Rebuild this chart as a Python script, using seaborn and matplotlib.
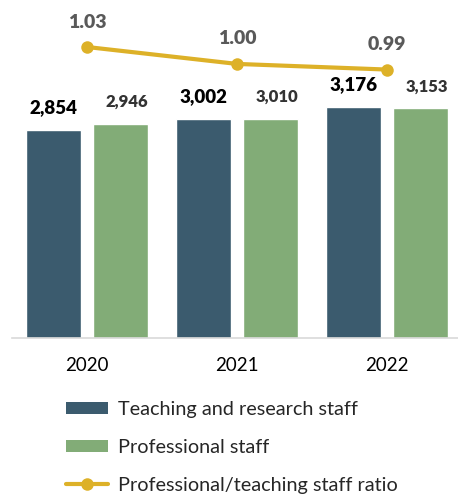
import numpy as np
import pandas as pd
import matplotlib
matplotlib.use("Agg")
import matplotlib.pyplot as plt
from matplotlib.patches import Patch
from matplotlib.lines import Line2D
import seaborn as sns

# chart data
years = ["2020", "2021", "2022"]
teaching = [2854, 3002, 3176]
professional = [2946, 3010, 3153]
ratio = [1.03, 1.00, 0.99]

series_names = ["Teaching and research staff", "Professional staff"]
ratio_name = "Professional/teaching staff ratio"

c_teach = "#3B5B6E"
c_prof = "#82AC77"
c_gold = "#DDB128"

sns.set_theme(style="white")
plt.rcParams["font.family"] = ["Lato", "DejaVu Sans"]

df = pd.DataFrame({
    "Year": years * 2,
    "Staff": [series_names[0]] * 3 + [series_names[1]] * 3,
    "Count": teaching + professional,
})

fig = plt.figure(figsize=(4.58, 4.99), dpi=100)
W, H = 458, 499
ax = fig.add_axes([12 / W, (H - 338) / H, 450 / W, 338 / H])

sns.barplot(data=df, x="Year", y="Count", hue="Staff",
            palette=[c_teach, c_prof], width=0.887, gap=0.17,
            saturation=1, legend=False, ax=ax)
ax.set_xlim(-0.5, 2.5)
ax.set_ylim(0, 338 / 0.0728)

# bar value labels
for cont, color, size, dx in zip(ax.containers, ["black", "#333333"],
                                 [13.5, 12], [0, 5]):
    labels = [f"{v:,.0f}" for v in cont.datavalues]
    anns = ax.bar_label(cont, labels=labels, padding=10, fontsize=size,
                        fontweight="heavy", color=color)
    for a in anns:
        a.xyann = (dx, a.xyann[1])

for s in ["top", "left", "right"]:
    ax.spines[s].set_visible(False)
ax.spines["bottom"].set_color("#D9D9D9")
ax.spines["bottom"].set_linewidth(1.2)
ax.set_yticks([])
ax.set_xlabel("")
ax.set_ylabel("")
ax.set_xticks([0, 1, 2])
ax.set_xticklabels(years, fontsize=13.5, color="black")
ax.tick_params(axis="x", length=0, pad=14)
# boundary ticks between categories
ax.set_xticks([-0.5, 0.5, 1.5, 2.5], minor=True)
ax.tick_params(axis="x", which="minor", length=7, width=1.2, color="#D9D9D9")

# ratio line on secondary axis
ax2 = ax.twinx()
sns.lineplot(x=np.arange(len(years)), y=ratio, ax=ax2, color=c_gold,
             linewidth=3, marker="o", markersize=9, markeredgewidth=0)
ax2.set_ylim(1.03 - 291 / 564, 1.03 + 47 / 564)
ax2.set_xlim(-0.5, 2.5)
ax2.set_yticks([])
ax2.set_ylabel("")
for s in ax2.spines.values():
    s.set_visible(False)
for i, v in enumerate(ratio):
    ax2.annotate(f"{v:.2f}", (i, v), xytext=(0, 18), textcoords="offset points",
                 ha="center", va="center", fontsize=14, fontweight="heavy",
                 color="#595959")

handles = [
    Patch(facecolor=c_teach, edgecolor="none"),
    Patch(facecolor=c_prof, edgecolor="none"),
    Line2D([0], [0], color=c_gold, linewidth=3, marker="o", markersize=9,
           markeredgewidth=0),
]
fig.legend(handles, series_names + [ratio_name], loc="upper left",
           bbox_to_anchor=(66 / W, (H - 401) / H), frameon=False,
           fontsize=14.3, borderpad=0, borderaxespad=0, handlelength=2.1,
           handletextpad=0.5, labelspacing=1.05, handleheight=0.6)

fig.savefig("out.png", dpi=100)
